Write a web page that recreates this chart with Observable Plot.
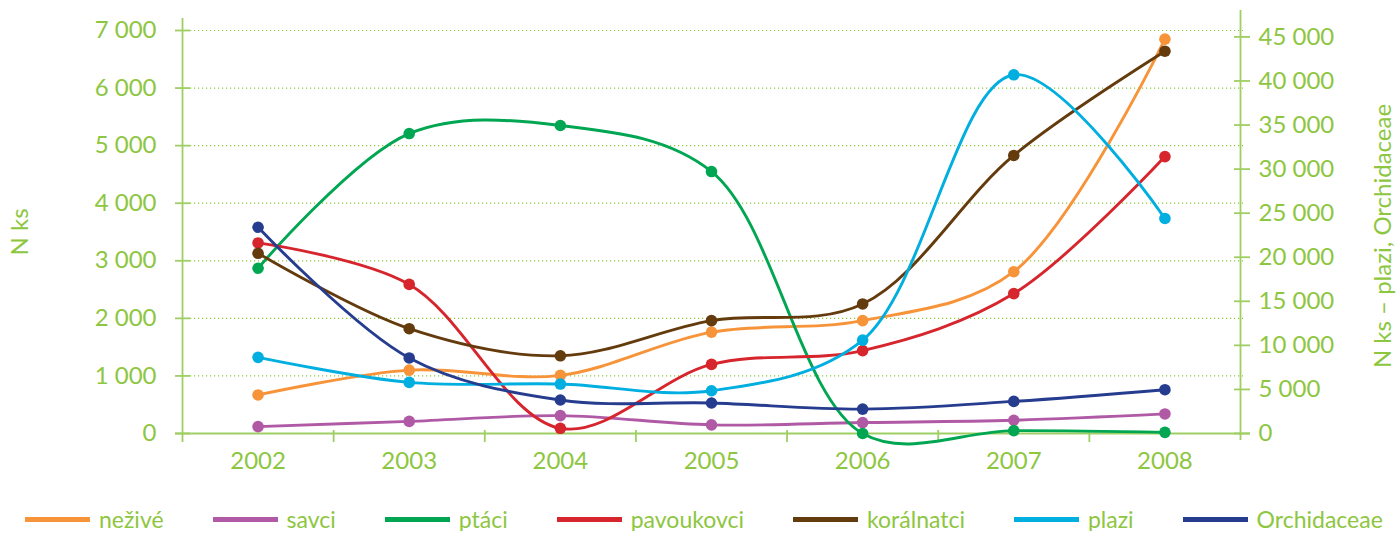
<!DOCTYPE html>
<html><head><meta charset="utf-8">
<script src="https://cdn.jsdelivr.net/npm/d3@7"></script>
<script src="https://cdn.jsdelivr.net/npm/@observablehq/plot@0.6"></script>
<style>
body{margin:0;background:#fff;font-family:Lato, sans-serif;overflow:hidden}
#chart svg{display:block}
#legend{display:flex;align-items:center;height:24px;line-height:24px;padding-top:17px;padding-left:25px;color:#8dc63f;font-size:23px;}
.item{display:flex;align-items:center;margin-right:49px;white-space:nowrap}
.sw{width:65px;height:5px;margin-right:9px}
</style></head><body><div id="chart"></div><div id="legend"></div>
<script>
const years = [2002, 2003, 2004, 2005, 2006, 2007, 2008];
const seriesNames = ["neživé", "savci", "ptáci", "pavoukovci", "korálnatci", "plazi", "Orchidaceae"];
const seriesColors = ["#f7943a", "#b05aa6", "#00a651", "#d6252d", "#643b0d", "#00aee0", "#263c8e"];
const nezive      = [670, 1100, 1010, 1760, 1960, 2810, 6850];
const savci       = [120, 210, 310, 150, 190, 230, 340];
const ptaci       = [2870, 5210, 5350, 4550, 0, 50, 20];
const pavoukovci  = [3310, 2590, 90, 1200, 1440, 2430, 4810];
const koralnatci  = [3130, 1820, 1350, 1960, 2250, 4830, 6640];
const plazi       = [8640, 5800, 5610, 4850, 10600, 40700, 24400];      // right axis
const orchidaceae = [23400, 8570, 3800, 3460, 2770, 3640, 4970];        // right axis
const leftTicks  = [0, 1000, 2000, 3000, 4000, 5000, 6000, 7000];
const rightTicks = [0, 5000, 10000, 15000, 20000, 25000, 30000, 35000, 40000, 45000];
const rightAxisSeries = ["plazi", "Orchidaceae"];
const leftTitle = "N ks";
const rightTitle = "N ks – plazi, Orchidaceae";

const green = "#8dc63f";
const axisGreen = "#9fcf62";
// right scale (0–45 000) expressed in left-axis units
const factor = (396 / 45000) / (402.4 / 7000);
const fmt = v => d3.format(",")(v).replace(/,/g, " ");

const valuesBySeries = [nezive, savci, ptaci, pavoukovci, koralnatci, plazi, orchidaceae];
const rows = [];
seriesNames.forEach((s, i) => {
  const onRight = rightAxisSeries.includes(s);
  years.forEach((y, j) => rows.push({series: s, year: y, v: onRight ? valuesBySeries[i][j] * factor : valuesBySeries[i][j]}));
});
const edges = years.slice(0, -1).map(y => y + 0.5);

const seriesMarks = seriesNames.flatMap((s, i) => {
  const d = rows.filter(r => r.series === s);
  return [
    Plot.line(d, {x: "year", y: "v", stroke: seriesColors[i], strokeWidth: 2.9, curve: "catmull-rom"}),
    Plot.dot(d, {x: "year", y: "v", fill: seriesColors[i], r: 5.8})
  ];
});

const chart = Plot.plot({
  width: 1398,
  height: 490,
  marginLeft: 182,
  marginRight: 158,
  marginTop: 30,
  marginBottom: 57,
  style: {fontFamily: "Lato, sans-serif", fontSize: "24px", background: "#fff"},
  x: {domain: [years[0] - 0.5, years[years.length - 1] + 0.5]},
  y: {domain: [leftTicks[0], leftTicks[leftTicks.length - 1]]},
  marks: [
    Plot.ruleY(leftTicks.slice(1), {stroke: green, strokeDasharray: "1.2 2.8", strokeWidth: 1.2, insetLeft: 8, insetRight: -3}),
    Plot.ruleY([0], {stroke: axisGreen, strokeWidth: 1.8, insetLeft: -7, insetRight: -10}),
    Plot.ruleX([years[0] - 0.5], {stroke: axisGreen, strokeWidth: 1.8, insetTop: -12, insetBottom: -9}),
    Plot.ruleX([years[years.length - 1] + 0.5], {stroke: axisGreen, strokeWidth: 1.8, insetTop: -20, insetBottom: -7}),
    Plot.axisY(leftTicks, {anchor: "left", tickSize: 15, dx: 8, fill: "none", stroke: axisGreen, strokeWidth: 1.8, label: null}),
    Plot.axisY(leftTicks, {anchor: "left", tickSize: 0, tickPadding: 26, tickFormat: fmt, fill: green, fontSize: 24, label: null}),
    Plot.axisY(rightTicks.map(t => t * factor), {anchor: "right", tickSize: 16, dx: -7, fill: "none", stroke: axisGreen, strokeWidth: 1.8, label: null}),
    Plot.axisY(rightTicks.map(t => t * factor), {anchor: "right", tickSize: 0, tickPadding: 18, tickFormat: d => fmt(Math.round(d / factor / 1000) * 1000), fill: green, fontSize: 24, label: null}),
    Plot.axisX(edges, {anchor: "bottom", tickSize: 12, dy: -3, fill: "none", stroke: axisGreen, strokeWidth: 1.8, label: null}),
    Plot.axisX(years, {anchor: "bottom", tickSize: 0, tickPadding: 18, tickFormat: d => String(d), fill: green, fontSize: 24, label: null}),
    Plot.text([leftTitle], {text: d => d, frameAnchor: "left", textAnchor: "middle", dx: -162, rotate: -90, fill: green, fontSize: 24}),
    Plot.text([rightTitle], {text: d => d, frameAnchor: "right", textAnchor: "middle", dx: 143, dy: 4, rotate: -90, fill: green, fontSize: 24}),
    ...seriesMarks
  ]
});
document.getElementById("chart").appendChild(chart);

const legend = document.getElementById("legend");
seriesNames.forEach((s, i) => {
  const item = document.createElement("div");
  item.className = "item";
  const sw = document.createElement("span");
  sw.className = "sw";
  sw.style.background = seriesColors[i];
  const t = document.createElement("span");
  t.textContent = s;
  item.appendChild(sw); item.appendChild(t);
  legend.appendChild(item);
});
</script>
</body></html>
